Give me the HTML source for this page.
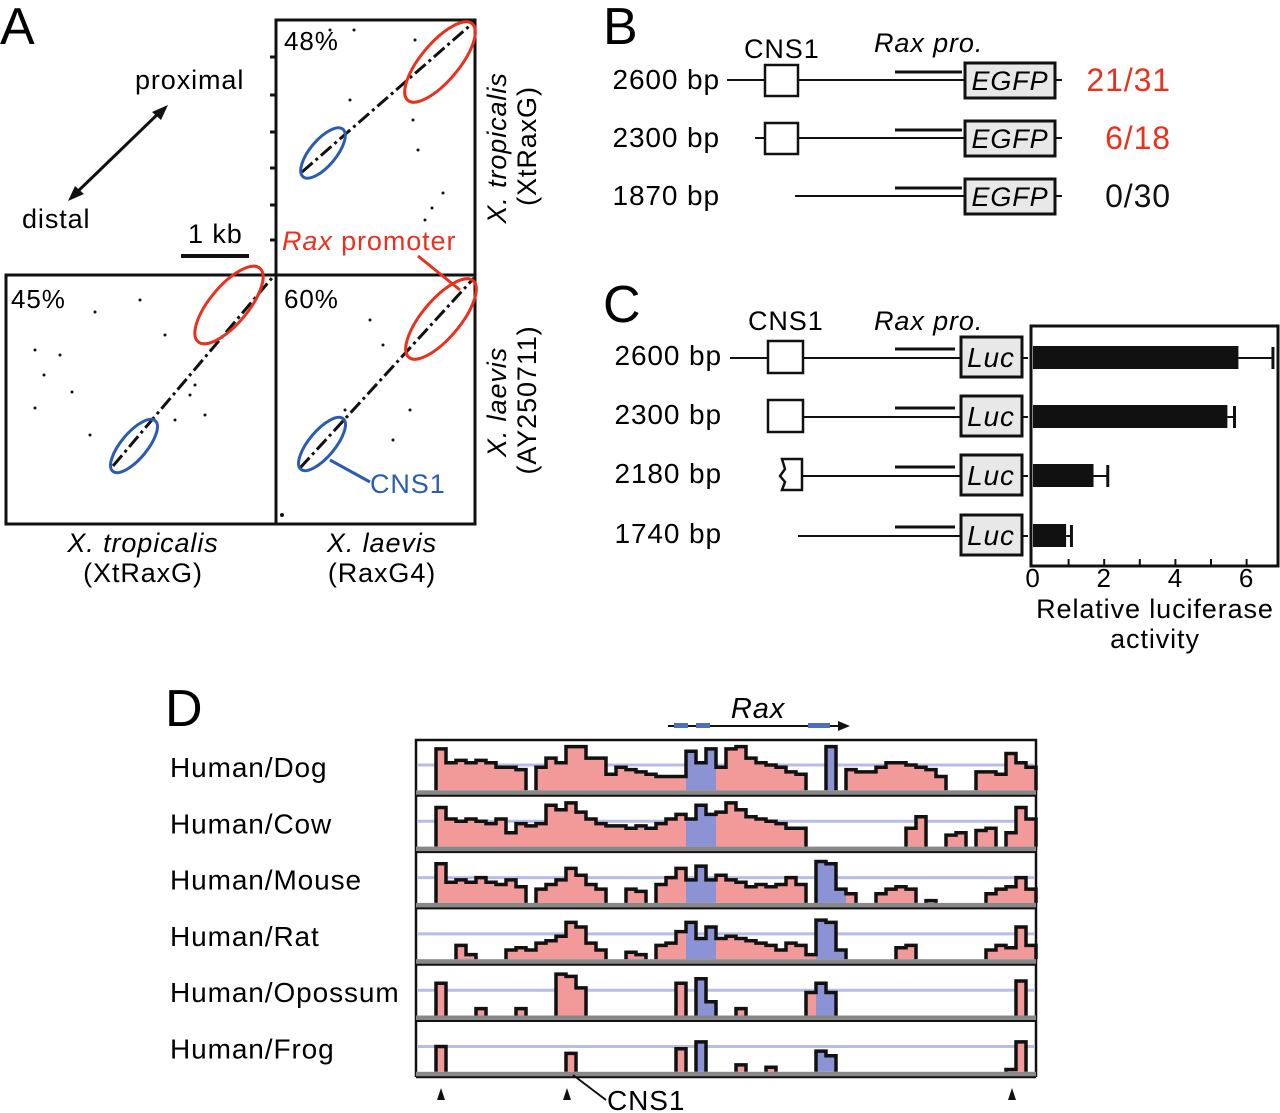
<!DOCTYPE html>
<html><head><meta charset="utf-8"><style>
html,body{margin:0;padding:0;background:#fff;}
svg{display:block;font-family:"Liberation Sans",Arial,sans-serif;}
svg text{letter-spacing:0.9px;}
</style></head><body>
<svg id="fig" width="1280" height="1113" viewBox="0 0 1280 1113" xmlns="http://www.w3.org/2000/svg">
<!-- Panel A -->
<g>
<text x="0" y="44" font-size="52" style="letter-spacing:0">A</text>
<text x="135" y="89" font-size="27">proximal</text>
<text x="22" y="228" font-size="27">distal</text>
<line x1="73" y1="196" x2="162" y2="110" stroke="#111" stroke-width="3"/>
<polygon points="168,105 152,112 161,120" fill="#111"/>
<polygon points="68,201 84,194 75,186" fill="#111"/>
<text x="188" y="243" font-size="27">1 kb</text>
<line x1="181" y1="256" x2="249" y2="256" stroke="#111" stroke-width="4"/>
<rect x="276" y="20" width="199" height="255" fill="none" stroke="#111" stroke-width="3"/>
<rect x="6" y="275" width="270" height="249" fill="none" stroke="#111" stroke-width="3"/>
<rect x="276" y="275" width="199" height="249" fill="none" stroke="#111" stroke-width="3"/>
<g stroke="#111" stroke-width="3">
<line x1="270" y1="57" x2="276" y2="57"/><line x1="270" y1="95" x2="276" y2="95"/><line x1="270" y1="132" x2="276" y2="132"/><line x1="270" y1="168" x2="276" y2="168"/><line x1="270" y1="205" x2="276" y2="205"/><line x1="270" y1="240" x2="276" y2="240"/>
</g>
<text x="284" y="50" font-size="26">48%</text>
<text x="11" y="308" font-size="26">45%</text>
<text x="284" y="308" font-size="26">60%</text>
<g stroke="#111" stroke-width="3" stroke-dasharray="14,4,3,4">
<line x1="302" y1="172" x2="474" y2="22"/>
<line x1="113" y1="466" x2="272" y2="278"/>
<line x1="300" y1="468" x2="474" y2="278"/>
</g>
<g fill="#111">
<circle cx="350" cy="100" r="1.5"/><circle cx="413" cy="120" r="1.5"/><circle cx="418" cy="150" r="1.5"/><circle cx="432" cy="208" r="1.5"/><circle cx="443" cy="193" r="1.5"/><circle cx="425" cy="220" r="1.5"/><circle cx="330" cy="30" r="1.5"/><circle cx="415" cy="40" r="1.5"/><circle cx="354" cy="30" r="1.5"/>
<circle cx="60" cy="355" r="1.5"/><circle cx="35" cy="350" r="1.5"/><circle cx="44" cy="375" r="1.5"/><circle cx="72" cy="392" r="1.5"/><circle cx="35" cy="408" r="1.5"/><circle cx="90" cy="435" r="1.5"/><circle cx="190" cy="395" r="1.5"/><circle cx="195" cy="385" r="1.5"/><circle cx="175" cy="420" r="1.5"/><circle cx="205" cy="415" r="1.5"/><circle cx="140" cy="300" r="1.5"/><circle cx="95" cy="312" r="1.5"/><circle cx="165" cy="335" r="1.5"/>
<circle cx="370" cy="320" r="1.5"/><circle cx="383" cy="345" r="1.5"/><circle cx="410" cy="410" r="1.5"/><circle cx="345" cy="410" r="1.5"/><circle cx="393" cy="440" r="1.5"/><circle cx="282" cy="515" r="2"/>
</g>
<g fill="none" stroke-width="3">
<ellipse cx="440" cy="62" rx="50" ry="19" transform="rotate(-50 440 62)" stroke="#e8321e"/>
<ellipse cx="323" cy="153" rx="31" ry="13" transform="rotate(-50 323 153)" stroke="#2a5db0"/>
<ellipse cx="229" cy="305" rx="48" ry="19" transform="rotate(-50 229 305)" stroke="#e8321e"/>
<ellipse cx="134" cy="446" rx="33" ry="13" transform="rotate(-50 134 446)" stroke="#2a5db0"/>
<ellipse cx="441" cy="319" rx="50" ry="19" transform="rotate(-50 441 319)" stroke="#e8321e"/>
<ellipse cx="322" cy="444" rx="33" ry="13" transform="rotate(-50 322 444)" stroke="#2a5db0"/>
</g>
<text x="282" y="250" font-size="27" fill="#e8321e"><tspan font-style="italic">Rax</tspan> promoter</text>
<line x1="418" y1="256" x2="460" y2="290" stroke="#e8321e" stroke-width="3"/>
<line x1="330" y1="460" x2="370" y2="482" stroke="#2a5db0" stroke-width="3"/>
<text x="370" y="493" font-size="27" fill="#2a5db0">CNS1</text>
<text x="143" y="552" font-size="27" text-anchor="middle" font-style="italic">X. tropicalis</text>
<text x="143" y="582" font-size="27" text-anchor="middle">(XtRaxG)</text>
<text x="382" y="552" font-size="27" text-anchor="middle" font-style="italic">X. laevis</text>
<text x="382" y="582" font-size="27" text-anchor="middle">(RaxG4)</text>
<text transform="translate(506,148) rotate(-90)" font-size="27" text-anchor="middle" font-style="italic">X. tropicalis</text>
<text transform="translate(536,146) rotate(-90)" font-size="27" text-anchor="middle">(XtRaxG)</text>
<text transform="translate(506,402) rotate(-90)" font-size="27" text-anchor="middle" font-style="italic">X. laevis</text>
<text transform="translate(536,400) rotate(-90)" font-size="27" text-anchor="middle">(AY250711)</text>
</g>
<!-- Panel B -->
<g>
<text x="603" y="44" font-size="52" style="letter-spacing:0">B</text>
<text x="744" y="58" font-size="27">CNS1</text>
<text x="874" y="52" font-size="27" font-style="italic">Rax pro.</text>
<g id="bRows"></g>
</g>
<!-- Panel C -->
<g>
<text x="603" y="322" font-size="52" style="letter-spacing:0">C</text>
<text x="748" y="330" font-size="27">CNS1</text>
<text x="874" y="330" font-size="27" font-style="italic">Rax pro.</text>
<g id="cRows"></g>
<rect x="1031" y="326" width="247" height="240" fill="none" stroke="#111" stroke-width="3"/>
<g id="cBars"></g>
<text x="1155" y="618" font-size="27" text-anchor="middle">Relative luciferase</text>
<text x="1155" y="648" font-size="27" text-anchor="middle">activity</text>
</g>
<!-- Panel D -->
<g>
<text x="165" y="726" font-size="52" style="letter-spacing:0">D</text>
<text x="758" y="718" font-size="29" font-style="italic" text-anchor="middle">Rax</text>
<line x1="668" y1="726" x2="842" y2="726" stroke="#111" stroke-width="2"/>
<polygon points="850,726 838,721 838,731" fill="#111"/>
<rect x="674" y="723" width="14" height="5" fill="#4d6fc0"/>
<rect x="696" y="723" width="14" height="5" fill="#4d6fc0"/>
<rect x="808" y="723" width="22" height="5" fill="#4d6fc0"/>
<g id="dTracks"></g>
<line x1="573" y1="1075" x2="606" y2="1100" stroke="#111" stroke-width="2"/>
<text x="607" y="1110" font-size="28">CNS1</text>
</g>
</svg>
<script>
const NS="http://www.w3.org/2000/svg";
function mk(tag,attrs,parent){const e=document.createElementNS(NS,tag);for(const k in attrs)e.setAttribute(k,attrs[k]);parent.appendChild(e);return e;}

// ---- Panel B data ----
const bLabels=["2600 bp","2300 bp","1870 bp"];
const bStarts=[727,755,795];
const bHasCns=[true,true,false];
const bScores=["21/31","6/18","0/30"];
const bScoreColors=["#e8321e","#e8321e","#111"];
const bRowY=[80,138,196];
const bG=document.getElementById('bRows');
bLabels.forEach((lab,i)=>{
  const y=bRowY[i];
  const t=mk('text',{x:720,y:y+9,'font-size':28,'text-anchor':'end'},bG);t.textContent=lab;
  
  
  mk('line',{x1:bStarts[i],y1:y,x2:965,y2:y,stroke:'#111','stroke-width':2},bG);
  mk('line',{x1:895,y1:y-8,x2:962,y2:y-8,stroke:'#111','stroke-width':3},bG);
  if(bHasCns[i]){const r=mk('rect',{x:765,y:y-15,width:33,height:31,fill:'#fff',stroke:'#111','stroke-width':2.5},bG);
    
    }
  const b=mk('rect',{x:965,y:y-17,width:90,height:35,fill:'#e8e8e8',stroke:'#111','stroke-width':3},bG);
  
  
  const et=mk('text',{x:1010,y:y+10,'font-size':27,'font-style':'italic','text-anchor':'middle'},bG);et.textContent='EGFP';
  mk('line',{x1:1055,y1:y,x2:1062,y2:y,stroke:'#111','stroke-width':2},bG);
  const s=mk('text',{x:1171,y:y+11,'font-size':32,'text-anchor':'end',fill:bScoreColors[i]},bG);s.textContent=bScores[i];
  
  
});

// ---- Panel C data ----
const cLabels=["2600 bp","2300 bp","2180 bp","1740 bp"];
const cStarts=[730,768,800,798];
const cCns=["full","full","partial","none"];
const cValues=[5.77,5.46,1.7,0.93];
const cErrors=[0.97,0.2,0.4,0.15];
const cTicks=[0,2,4,6];
const cRowY=[358,417,476,536];
const x0=1033, xu=35.6;
function xs(v){return x0+v*xu;}
const cG=document.getElementById('cRows'), cB=document.getElementById('cBars');
cLabels.forEach((lab,i)=>{
  const y=cRowY[i];
  const t=mk('text',{x:722,y:y+7,'font-size':28,'text-anchor':'end'},cG);t.textContent=lab;
  
  
  mk('line',{x1:cStarts[i],y1:y,x2:962,y2:y,stroke:'#111','stroke-width':2},cG);
  mk('line',{x1:895,y1:y-9,x2:955,y2:y-9,stroke:'#111','stroke-width':3},cG);
  if(cCns[i]==='full'){mk('rect',{x:768,y:y-17,width:35,height:32,fill:'#fff',stroke:'#111','stroke-width':2.5},cG);}
  if(cCns[i]==='partial'){mk('path',{d:`M782 ${y-17} L802 ${y-17} L802 ${y+14} L782 ${y+14} L785 ${y+6} L780 ${y} L785 ${y-7} Z`,fill:'#fff',stroke:'#111','stroke-width':2.5},cG);}
  mk('rect',{x:961,y:y-21,width:61,height:40,fill:'#e8e8e8',stroke:'#111','stroke-width':3},cG);
  const lt=mk('text',{x:991,y:y+9,'font-size':28,'font-style':'italic','text-anchor':'middle'},cG);lt.textContent='Luc';
  mk('line',{x1:1022,y1:y,x2:1028,y2:y,stroke:'#111','stroke-width':2},cG);
  const bar=mk('rect',{x:x0,y:y-12,width:xs(cValues[i])-x0,height:23,fill:'#111'},cB);
  
  
  const xe=xs(cValues[i]+cErrors[i]);
  mk('line',{x1:xs(cValues[i]),y1:y,x2:xe,y2:y,stroke:'#111','stroke-width':2},cB);
  mk('line',{x1:xe,y1:y-11,x2:xe,y2:y+11,stroke:'#111','stroke-width':3},cB);
});
for(let v=1;v<=6;v++){mk('line',{x1:xs(v),y1:559,x2:xs(v),y2:566,stroke:'#111','stroke-width':2},cB);}
cTicks.forEach(v=>{const t=mk('text',{x:xs(v),y:587,'font-size':26,'text-anchor':'middle'},cB);t.textContent=v;
  
  });

// ---- Panel D data (identity per 10px bin, 0..1) ----
const dSpecies=["Human/Dog","Human/Cow","Human/Mouse","Human/Rat","Human/Opossum","Human/Frog"];
const dDog=[0,0,0.9,0.6,0.65,0.6,0.65,0.6,0.5,0.5,0.45,0,0.5,0.7,0.6,0.95,0.95,0.7,0.7,0.35,0.5,0.45,0.4,0.35,0.3,0.3,0.3,0.85,0.6,0.9,0.5,0.9,0.95,0.7,0.6,0.55,0.5,0.4,0.35,0,0,0.95,0,0.45,0.4,0.4,0.5,0.6,0.6,0.55,0.5,0.45,0.3,0,0,0,0.4,0.4,0.35,0.8,0.6,0.5];
const dCow=[0,0,0.85,0.6,0.55,0.6,0.55,0.5,0.6,0.3,0.5,0.45,0.5,0.9,0.8,0.95,0.75,0.6,0.5,0.45,0.45,0.4,0.45,0.4,0.5,0.6,0.7,0.6,0.9,0.7,0.75,0.95,0.8,0.65,0.6,0.55,0.5,0.4,0.4,0,0,0,0,0,0,0,0,0,0,0.4,0.65,0,0,0.25,0.3,0,0.35,0.4,0,0.3,0.85,0.6];
const dMouse=[0,0,0.85,0.45,0.5,0.45,0.55,0.45,0.4,0.5,0.35,0,0.3,0.4,0.5,0.75,0.6,0.4,0.3,0,0,0.3,0.25,0,0.4,0.55,0.75,0.5,0.8,0.5,0.6,0.5,0.45,0.35,0.4,0.35,0.4,0.55,0.4,0,0.9,0.85,0.3,0.2,0,0,0.2,0.3,0.35,0.3,0,0.05,0,0,0,0,0,0.2,0.3,0.35,0.55,0.3];
const dRat=[0,0,0,0,0.3,0.1,0,0,0,0.2,0.25,0.2,0.35,0.4,0.5,0.8,0.7,0.35,0.2,0,0,0.15,0.1,0,0.3,0.35,0.6,0.8,0.45,0.7,0.45,0.5,0.45,0.4,0.35,0.3,0.2,0.35,0.3,0.1,0.85,0.8,0.2,0,0,0,0,0,0.25,0.3,0,0,0,0,0,0,0,0.2,0.3,0.25,0.7,0.3];
const dOpossum=[0,0,0.7,0,0,0,0.15,0,0,0,0.15,0,0,0,0.9,0.85,0.6,0,0,0,0,0,0,0,0,0,0.7,0,0.8,0.3,0,0,0.15,0,0,0,0,0,0,0.5,0.7,0.5,0,0,0,0,0,0,0,0,0,0,0,0,0,0,0,0,0,0,0.75,0];
const dFrog=[0,0,0.55,0,0,0,0,0,0,0,0,0,0,0,0,0.4,0,0,0,0,0,0,0,0,0,0,0.5,0,0.65,0,0,0,0.15,0,0,0.1,0,0,0,0,0.45,0.35,0,0,0,0,0,0,0,0,0,0,0,0,0,0,0,0,0,0.05,0.65,0];
const dSeries=[dDog,dCow,dMouse,dRat,dOpossum,dFrog];
const dExons=[[682,716],[813,838]];
const dLeft=416, dRight=1036, dTop=740, dTrackH=56.3, dBin=10, dMaxH=46;
const dG=document.getElementById('dTracks');
mk('rect',{x:dLeft,y:dTop,width:dRight-dLeft,height:dTrackH*6-2,fill:'none',stroke:'#111','stroke-width':2.5},dG);
function isExon(x){return dExons.some(e=>x>=e[0]-4&&x<e[1]);}
dSpecies.forEach((sp,ti)=>{
  const top=dTop+ti*dTrackH, base=top+dTrackH-6;
  const lab=mk('text',{x:170,y:top+37,'font-size':28},dG);lab.textContent=sp;
  
  
  mk('line',{x1:dLeft+2,y1:top+25,x2:dRight-2,y2:top+25,stroke:'#b8bde8','stroke-width':3},dG);
  const vals=dSeries[ti];
  let d='', open=false;
  vals.forEach((v,i)=>{
    const x=dLeft+i*dBin;
    if(v<=0){ if(open){d+=`L${x} ${base} `;open=false;} return; }
    const h=v*dMaxH;
    const r=mk('rect',{x:x,y:base-h,width:dBin,height:h,fill:isExon(x)?'#8c93d4':'#f29a9a'},dG);
    
    
    if(!open){d+=`M${x} ${base} `;open=true;}
    d+=`L${x} ${base-h} L${x+dBin} ${base-h} `;
  });
  if(open){d+=`L${dLeft+vals.length*dBin} ${base} `;}
  mk('path',{d:d,fill:'none',stroke:'#111','stroke-width':3.5,'stroke-linejoin':'miter'},dG);
  mk('rect',{x:dLeft,y:base,width:dRight-dLeft,height:5,fill:'#888'},dG);
  mk('line',{x1:dLeft,y1:base+5.5,x2:dRight,y2:base+5.5,stroke:'#111','stroke-width':2},dG);
});
[441,567,1012].forEach(x=>{const p=mk('polygon',{points:`${x},1088 ${x-4},1100 ${x+4},1100`,fill:'#111'},dG);
  
  });
</script>
</body></html>
